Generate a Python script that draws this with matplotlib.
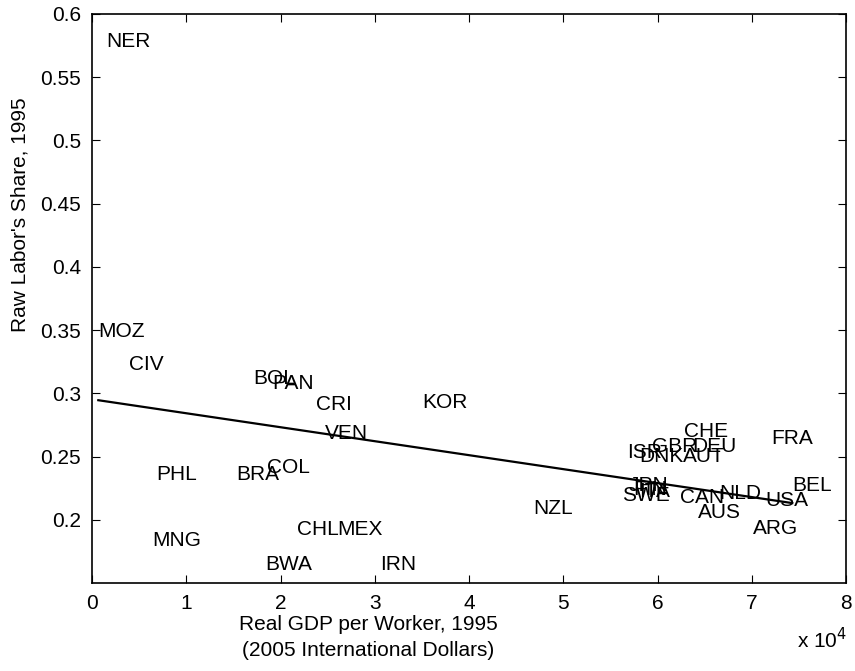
import numpy as np
import matplotlib
matplotlib.use('Agg')
import matplotlib.pyplot as plt

plt.rcParams['font.family'] = ['Liberation Sans', 'DejaVu Sans']

# country codes, GDP per worker (x 10^4), raw labor share
codes = ['NER', 'MOZ', 'CIV', 'BOL', 'PAN', 'CRI', 'VEN', 'KOR', 'PHL', 'BRA',
         'COL', 'MNG', 'CHL', 'MEX', 'BWA', 'IRN', 'NZL', 'CHE', 'FRA', 'ISR',
         'GBR', 'DEU', 'DNK', 'AUT', 'JPN', 'FIN', 'ITA', 'SWE', 'CAN', 'NLD',
         'USA', 'AUS', 'ARG', 'BEL']
gdp = [0.156, 0.067, 0.393, 1.71, 1.91, 2.38, 2.47, 3.50, 0.68, 1.53,
       1.86, 0.64, 2.17, 2.60, 1.84, 3.06, 4.68, 6.28, 7.21, 5.68,
       5.94, 6.37, 5.81, 6.27, 5.69, 5.74, 5.81, 5.62, 6.24, 6.66,
       7.14, 6.43, 7.01, 7.43]
share = [0.578, 0.349, 0.323, 0.312, 0.308, 0.2915, 0.2686, 0.293, 0.2355, 0.236,
         0.241, 0.184, 0.192, 0.192, 0.165, 0.165, 0.2087, 0.270, 0.264, 0.253,
         0.258, 0.258, 0.250, 0.250, 0.227, 0.224, 0.222, 0.219, 0.218, 0.2205,
         0.215, 0.2055, 0.193, 0.227]

# fitted line (intercept, slope)
fit_a = 0.2953
fit_b = -0.01105

fs = 15

fig = plt.figure(figsize=(8.55, 6.71), dpi=100)
ax = fig.add_axes([92/855, 88/671, 754/855, 569/671])

for c, x, y in zip(codes, gdp, share):
    ax.text(x, y, c, fontsize=fs, ha='left', va='center')

xl = np.array([min(gdp), max(gdp)])
ax.plot(xl, fit_a + fit_b*xl, color='black', linewidth=1.6)

ax.set_xlim(0, 8)
ax.set_ylim(0.15, 0.6)
ax.set_xticks(range(0, 9))
yt = [0.2, 0.25, 0.3, 0.35, 0.4, 0.45, 0.5, 0.55, 0.6]
ax.set_yticks(yt)
ax.set_yticklabels(['0.2', '0.25', '0.3', '0.35', '0.4', '0.45', '0.5', '0.55', '0.6'])
ax.tick_params(direction='in', length=6, top=True, right=True, labelsize=fs, pad=8)
for s in ax.spines.values():
    s.set_linewidth(1.2)

fig.text(368/855, 1 - 625/671, 'Real GDP per Worker, 1995', fontsize=fs, ha='center', va='center')
fig.text(368/855, 1 - 651/671, '(2005 International Dollars)', fontsize=fs, ha='center', va='center')
fig.text(20/855, 1 - 215/671, "Raw Labor's Share, 1995", fontsize=fs, rotation=90,
         ha='center', va='center')
fig.text(797/855, 1 - 640/671, r'x 10$^{4}$', fontsize=fs, ha='left', va='center')

plt.savefig('out.png', dpi=100)
